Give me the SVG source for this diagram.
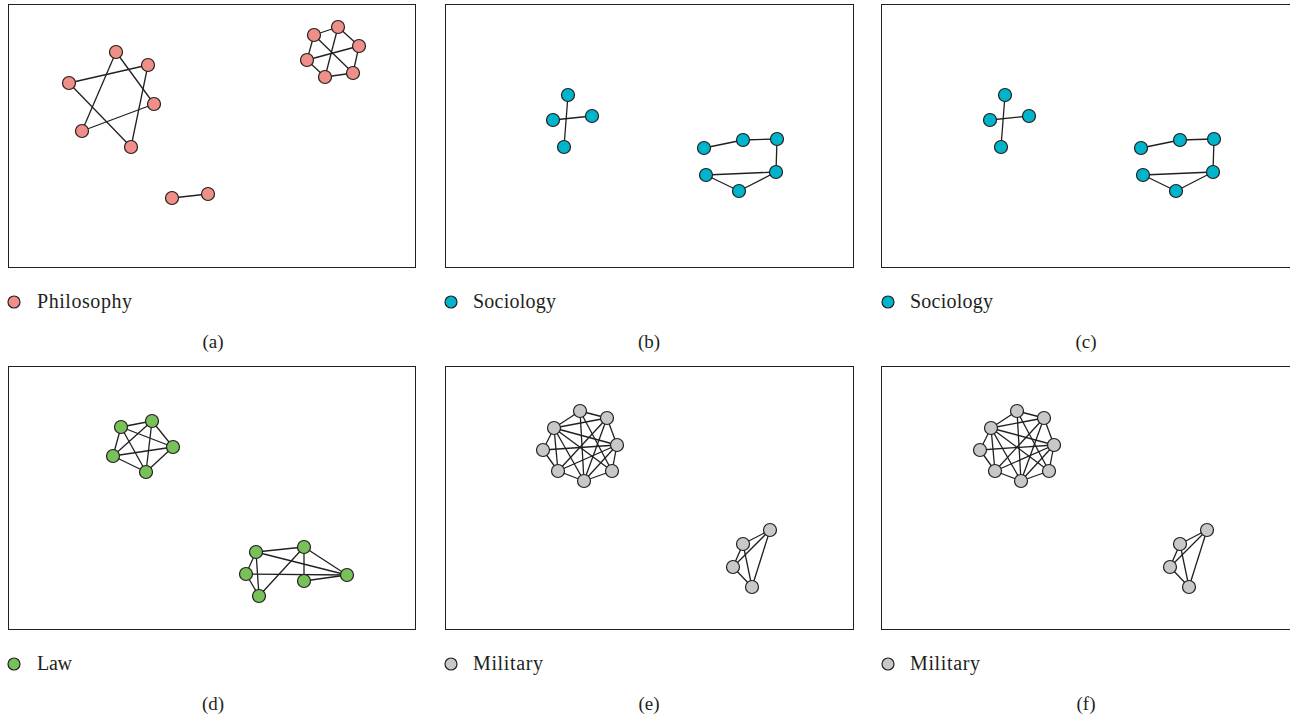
<svg xmlns="http://www.w3.org/2000/svg" width="1290" height="720" viewBox="0 0 1290 720">
  <style>
    .frame { fill: #ffffff; stroke: #231f20; stroke-width: 1; }
    .edge { stroke: #231f20; stroke-width: 1.3; fill: none; }
    .node circle { stroke: #231f20; stroke-width: 1.2; }
    .phil circle { fill: #ef8f87; }
    .soc circle { fill: #00b4cb; }
    .law circle { fill: #77c15b; }
    .mil circle { fill: #c8c8c8; }
    .lbl { font-family: "Liberation Serif", "Times New Roman", serif; font-size: 20px; fill: #231f20; }
    .cap { font-family: "Liberation Serif", "Times New Roman", serif; font-size: 19px; fill: #231f20; text-anchor: middle; }
  </style>
  <rect width="1290" height="720" fill="#ffffff"/>

  <!-- panel frames -->
  <g id="frames">
    <rect class="frame" x="8.5" y="4.5" width="407" height="263"/>
    <rect class="frame" x="445.5" y="4.5" width="408" height="263"/>
    <rect class="frame" x="881.5" y="4.5" width="420" height="263"/>
    <rect class="frame" x="8.5" y="366.5" width="407" height="263"/>
    <rect class="frame" x="445.5" y="366.5" width="408" height="263"/>
    <rect class="frame" x="881.5" y="366.5" width="420" height="263"/>
  </g>

  <!-- connectors -->
  <g id="connectors" class="edge">
    <!-- (a) hexagram -->
    <line x1="116" y1="52" x2="82" y2="131"/>
    <line x1="116" y1="52" x2="154" y2="104"/>
    <line x1="82" y1="131" x2="154" y2="104"/>
    <line x1="148" y1="65" x2="69" y2="83"/>
    <line x1="148" y1="65" x2="131" y2="147"/>
    <line x1="69" y1="83" x2="131" y2="147"/>
    <!-- (a) cluster -->
    <line x1="314" y1="35" x2="338" y2="27"/>
    <line x1="338" y1="27" x2="359" y2="46"/>
    <line x1="314" y1="35" x2="307" y2="60"/>
    <line x1="314" y1="35" x2="353" y2="73"/>
    <line x1="338" y1="27" x2="325" y2="77"/>
    <line x1="307" y1="60" x2="359" y2="46"/>
    <line x1="307" y1="60" x2="325" y2="77"/>
    <line x1="325" y1="77" x2="353" y2="73"/>
    <line x1="359" y1="46" x2="353" y2="73"/>
    <!-- (a) pair -->
    <line x1="172" y1="198" x2="208" y2="194"/>

    <!-- (b) cross -->
    <line x1="568" y1="95" x2="564" y2="147"/>
    <line x1="553" y1="120" x2="592" y2="116"/>
    <!-- (b) chain -->
    <line x1="704" y1="148" x2="743" y2="140"/>
    <line x1="743" y1="140" x2="777" y2="139"/>
    <line x1="777" y1="139" x2="776" y2="172"/>
    <line x1="706" y1="175" x2="776" y2="172"/>
    <line x1="706" y1="175" x2="739" y2="191"/>
    <line x1="739" y1="191" x2="776" y2="172"/>

    <!-- (c) cross -->
    <line x1="1005" y1="95" x2="1001" y2="147"/>
    <line x1="990" y1="120" x2="1029" y2="116"/>
    <!-- (c) chain -->
    <line x1="1141" y1="148" x2="1180" y2="140"/>
    <line x1="1180" y1="140" x2="1214" y2="139"/>
    <line x1="1214" y1="139" x2="1213" y2="172"/>
    <line x1="1143" y1="175" x2="1213" y2="172"/>
    <line x1="1143" y1="175" x2="1176" y2="191"/>
    <line x1="1176" y1="191" x2="1213" y2="172"/>

    <!-- (d) complete five -->
    <line x1="121" y1="427" x2="152" y2="421"/>
    <line x1="121" y1="427" x2="173" y2="447"/>
    <line x1="121" y1="427" x2="113" y2="456"/>
    <line x1="121" y1="427" x2="146" y2="472"/>
    <line x1="152" y1="421" x2="173" y2="447"/>
    <line x1="152" y1="421" x2="113" y2="456"/>
    <line x1="152" y1="421" x2="146" y2="472"/>
    <line x1="173" y1="447" x2="113" y2="456"/>
    <line x1="173" y1="447" x2="146" y2="472"/>
    <line x1="113" y1="456" x2="146" y2="472"/>
    <!-- (d) six -->
    <line x1="256" y1="552" x2="304" y2="547"/>
    <line x1="256" y1="552" x2="246" y2="574"/>
    <line x1="256" y1="552" x2="259" y2="596"/>
    <line x1="256" y1="552" x2="347" y2="575"/>
    <line x1="304" y1="547" x2="259" y2="596"/>
    <line x1="304" y1="547" x2="304" y2="581"/>
    <line x1="304" y1="547" x2="347" y2="575"/>
    <line x1="246" y1="574" x2="259" y2="596"/>
    <line x1="246" y1="574" x2="347" y2="575"/>
    <line x1="304" y1="581" x2="347" y2="575"/>

    <!-- (e) eight -->
    <g id="mil-big-edges">
      <line x1="580" y1="411" x2="607" y2="418"/>
      <line x1="580" y1="411" x2="554" y2="428"/>
      <line x1="607" y1="418" x2="617" y2="445"/>
      <line x1="554" y1="428" x2="543" y2="450"/>
      <line x1="543" y1="450" x2="558" y2="471"/>
      <line x1="558" y1="471" x2="584" y2="481"/>
      <line x1="584" y1="481" x2="612" y2="471"/>
      <line x1="612" y1="471" x2="617" y2="445"/>
      <line x1="554" y1="428" x2="607" y2="418"/>
      <line x1="580" y1="411" x2="584" y2="481"/>
      <line x1="580" y1="411" x2="612" y2="471"/>
      <line x1="554" y1="428" x2="558" y2="471"/>
      <line x1="554" y1="428" x2="584" y2="481"/>
      <line x1="554" y1="428" x2="612" y2="471"/>
      <line x1="554" y1="428" x2="617" y2="445"/>
      <line x1="607" y1="418" x2="558" y2="471"/>
      <line x1="607" y1="418" x2="584" y2="481"/>
      <line x1="543" y1="450" x2="617" y2="445"/>
      <line x1="617" y1="445" x2="558" y2="471"/>
      <line x1="617" y1="445" x2="584" y2="481"/>
    </g>
    <!-- (e) four -->
    <g id="mil-small-edges">
      <line x1="770" y1="530" x2="743" y2="544"/>
      <line x1="770" y1="530" x2="733" y2="567"/>
      <line x1="770" y1="530" x2="752" y2="587"/>
      <line x1="743" y1="544" x2="733" y2="567"/>
      <line x1="743" y1="544" x2="752" y2="587"/>
      <line x1="733" y1="567" x2="752" y2="587"/>
    </g>
    <!-- (f) repeats (e) -->
    <use href="#mil-big-edges" transform="translate(437,0)"/>
    <use href="#mil-small-edges" transform="translate(437,0)"/>
  </g>

  <!-- (a) Philosophy nodes -->
  <g class="node phil">
    <g id="a1"><circle cx="116" cy="52" r="6.5"/></g>
    <g id="a2"><circle cx="148" cy="65" r="6.5"/></g>
    <g id="a3"><circle cx="69" cy="83" r="6.5"/></g>
    <g id="a4"><circle cx="154" cy="104" r="6.5"/></g>
    <g id="a5"><circle cx="82" cy="131" r="6.5"/></g>
    <g id="a6"><circle cx="131" cy="147" r="6.5"/></g>
    <g id="a7"><circle cx="314" cy="35" r="6.5"/></g>
    <g id="a8"><circle cx="338" cy="27" r="6.5"/></g>
    <g id="a9"><circle cx="359" cy="46" r="6.5"/></g>
    <g id="a10"><circle cx="307" cy="60" r="6.5"/></g>
    <g id="a11"><circle cx="325" cy="77" r="6.5"/></g>
    <g id="a12"><circle cx="353" cy="73" r="6.5"/></g>
    <g id="a13"><circle cx="172" cy="198" r="6.5"/></g>
    <g id="a14"><circle cx="208" cy="194" r="6.5"/></g>
  </g>

  <!-- (b) Sociology nodes -->
  <g class="node soc">
    <g id="b1"><circle cx="568" cy="95" r="6.5"/></g>
    <g id="b2"><circle cx="553" cy="120" r="6.5"/></g>
    <g id="b3"><circle cx="592" cy="116" r="6.5"/></g>
    <g id="b4"><circle cx="564" cy="147" r="6.5"/></g>
    <g id="b5"><circle cx="704" cy="148" r="6.5"/></g>
    <g id="b6"><circle cx="743" cy="140" r="6.5"/></g>
    <g id="b7"><circle cx="777" cy="139" r="6.5"/></g>
    <g id="b8"><circle cx="706" cy="175" r="6.5"/></g>
    <g id="b9"><circle cx="776" cy="172" r="6.5"/></g>
    <g id="b10"><circle cx="739" cy="191" r="6.5"/></g>
  </g>

  <!-- (c) Sociology nodes -->
  <g class="node soc">
    <g id="c1"><circle cx="1005" cy="95" r="6.5"/></g>
    <g id="c2"><circle cx="990" cy="120" r="6.5"/></g>
    <g id="c3"><circle cx="1029" cy="116" r="6.5"/></g>
    <g id="c4"><circle cx="1001" cy="147" r="6.5"/></g>
    <g id="c5"><circle cx="1141" cy="148" r="6.5"/></g>
    <g id="c6"><circle cx="1180" cy="140" r="6.5"/></g>
    <g id="c7"><circle cx="1214" cy="139" r="6.5"/></g>
    <g id="c8"><circle cx="1143" cy="175" r="6.5"/></g>
    <g id="c9"><circle cx="1213" cy="172" r="6.5"/></g>
    <g id="c10"><circle cx="1176" cy="191" r="6.5"/></g>
  </g>

  <!-- (d) Law nodes -->
  <g class="node law">
    <g id="d1"><circle cx="121" cy="427" r="6.5"/></g>
    <g id="d2"><circle cx="152" cy="421" r="6.5"/></g>
    <g id="d3"><circle cx="173" cy="447" r="6.5"/></g>
    <g id="d4"><circle cx="113" cy="456" r="6.5"/></g>
    <g id="d5"><circle cx="146" cy="472" r="6.5"/></g>
    <g id="d6"><circle cx="256" cy="552" r="6.5"/></g>
    <g id="d7"><circle cx="304" cy="547" r="6.5"/></g>
    <g id="d8"><circle cx="246" cy="574" r="6.5"/></g>
    <g id="d9"><circle cx="347" cy="575" r="6.5"/></g>
    <g id="d10"><circle cx="304" cy="581" r="6.5"/></g>
    <g id="d11"><circle cx="259" cy="596" r="6.5"/></g>
  </g>

  <!-- (e) Military nodes -->
  <g class="node mil">
    <g id="e1"><circle cx="580" cy="411" r="6.5"/></g>
    <g id="e2"><circle cx="607" cy="418" r="6.5"/></g>
    <g id="e3"><circle cx="554" cy="428" r="6.5"/></g>
    <g id="e4"><circle cx="617" cy="445" r="6.5"/></g>
    <g id="e5"><circle cx="543" cy="450" r="6.5"/></g>
    <g id="e6"><circle cx="558" cy="471" r="6.5"/></g>
    <g id="e7"><circle cx="612" cy="471" r="6.5"/></g>
    <g id="e8"><circle cx="584" cy="481" r="6.5"/></g>
    <g id="e9"><circle cx="770" cy="530" r="6.5"/></g>
    <g id="e10"><circle cx="743" cy="544" r="6.5"/></g>
    <g id="e11"><circle cx="733" cy="567" r="6.5"/></g>
    <g id="e12"><circle cx="752" cy="587" r="6.5"/></g>
  </g>

  <!-- (f) Military nodes -->
  <g class="node mil">
    <g id="f1"><circle cx="1017" cy="411" r="6.5"/></g>
    <g id="f2"><circle cx="1044" cy="418" r="6.5"/></g>
    <g id="f3"><circle cx="991" cy="428" r="6.5"/></g>
    <g id="f4"><circle cx="1054" cy="445" r="6.5"/></g>
    <g id="f5"><circle cx="980" cy="450" r="6.5"/></g>
    <g id="f6"><circle cx="995" cy="471" r="6.5"/></g>
    <g id="f7"><circle cx="1049" cy="471" r="6.5"/></g>
    <g id="f8"><circle cx="1021" cy="481" r="6.5"/></g>
    <g id="f9"><circle cx="1207" cy="530" r="6.5"/></g>
    <g id="f10"><circle cx="1180" cy="544" r="6.5"/></g>
    <g id="f11"><circle cx="1170" cy="567" r="6.5"/></g>
    <g id="f12"><circle cx="1189" cy="587" r="6.5"/></g>
  </g>

  <!-- legends -->
  <g id="legend-a" class="node phil"><circle cx="14" cy="302" r="6"/><text class="lbl" x="37" y="308" textLength="95">Philosophy</text></g>
  <g id="legend-b" class="node soc"><circle cx="451" cy="302" r="6"/><text class="lbl" x="473" y="308" textLength="83">Sociology</text></g>
  <g id="legend-c" class="node soc"><circle cx="888" cy="302" r="6"/><text class="lbl" x="910" y="308" textLength="83">Sociology</text></g>
  <g id="legend-d" class="node law"><circle cx="14" cy="664" r="6"/><text class="lbl" x="37" y="670" textLength="35">Law</text></g>
  <g id="legend-e" class="node mil"><circle cx="451" cy="664" r="6"/><text class="lbl" x="473" y="670" textLength="70">Military</text></g>
  <g id="legend-f" class="node mil"><circle cx="888" cy="664" r="6"/><text class="lbl" x="910" y="670" textLength="70">Military</text></g>

  <!-- panel captions -->
  <g id="captions">
    <text class="cap" x="213" y="348">(a)</text>
    <text class="cap" x="649" y="348">(b)</text>
    <text class="cap" x="1086" y="348">(c)</text>
    <text class="cap" x="213" y="710">(d)</text>
    <text class="cap" x="649" y="710">(e)</text>
    <text class="cap" x="1086" y="710">(f)</text>
  </g>
</svg>
